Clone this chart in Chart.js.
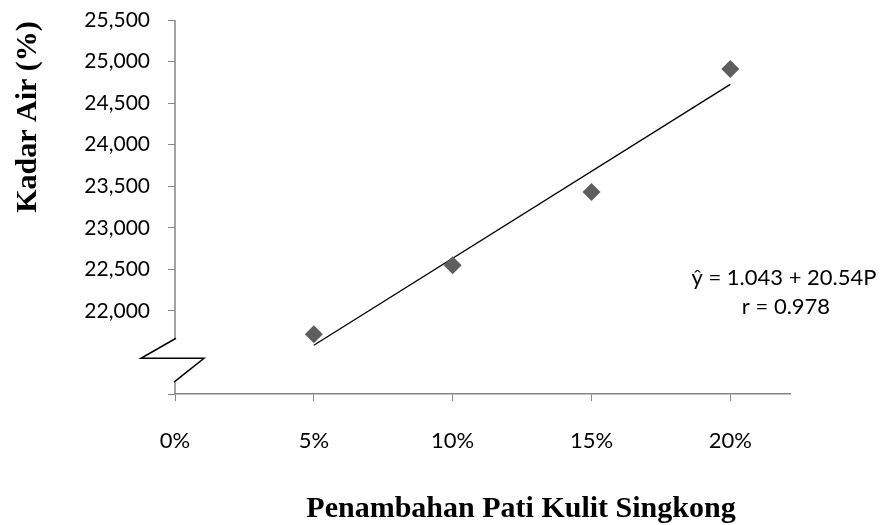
<!DOCTYPE html>
<html>
<head>
<meta charset="utf-8">
<title>Kadar Air</title>
<script src="https://cdn.jsdelivr.net/npm/chart.js@4/dist/chart.umd.min.js"></script>
<style>
  html, body { margin: 0; padding: 0; background: #ffffff; }
  canvas { display: block; }
</style>
</head>
<body>
<canvas id="chart" width="882" height="525"></canvas>
<script>
// Moisture content (Kadar Air) against cassava-peel starch addition
const patiLevels = [0.05, 0.10, 0.15, 0.20];
const kadarAir = [21720, 22550, 23430, 24910];

// Fitted linear trend, drawn between the first and last level
const trendLevels = [0.05, 0.20];
const trendValues = [21587, 24725];

// Axis ticks
const xTickValues = [0, 0.05, 0.10, 0.15, 0.20];
const yTickValues = [21000, 22000, 22500, 23000, 23500, 24000, 24500, 25000, 25500];
const yLabelFrom = 22000;

// Scale values where the vertical axis is interrupted
const axisBreak = { upper: 21671, mid: 21430, lower: 21142 };

const equationLines = ['\u0177 = 1.043 + 20.54P', 'r = 0.978'];
const xTitle = 'Penambahan Pati Kulit Singkong';
const yTitle = 'Kadar Air (%)';

const AXIS_GREY = '#868686';
const TICK_FONT = 'Lato';
const TITLE_FONT = '"Liberation Serif", "Times New Roman", serif';

const decorations = {
  id: 'decorations',
  beforeDraw(chart) {
    const ctx = chart.ctx;
    ctx.save();
    ctx.fillStyle = '#ffffff';
    ctx.fillRect(0, 0, chart.width, chart.height);
    ctx.restore();
  },
  afterDraw(chart) {
    const ctx = chart.ctx;
    const xs = chart.scales.x, ys = chart.scales.y;
    const ax = xs.getPixelForValue(0);
    const yTop = ys.getPixelForValue(ys.max);
    const yBottom = ys.getPixelForValue(ys.min);
    const bUp = ys.getPixelForValue(axisBreak.upper);
    const bMid = ys.getPixelForValue(axisBreak.mid);
    const bLow = ys.getPixelForValue(axisBreak.lower);

    ctx.save();
    // broken vertical axis
    ctx.strokeStyle = AXIS_GREY;
    ctx.lineWidth = 1.5;
    ctx.beginPath();
    ctx.moveTo(ax, yTop);
    ctx.lineTo(ax, bUp);
    ctx.moveTo(ax, bLow);
    ctx.lineTo(ax, yBottom);
    ctx.stroke();

    // break symbol
    ctx.strokeStyle = '#000000';
    ctx.lineWidth = 1.5;
    ctx.beginPath();
    ctx.moveTo(ax + 1, bUp);
    ctx.lineTo(ax - 34, bMid);
    ctx.lineTo(ax + 29, bMid);
    ctx.lineTo(ax - 1, bLow);
    ctx.stroke();

    // regression note
    ctx.fillStyle = '#000000';
    ctx.font = '22px ' + TICK_FONT;
    ctx.textAlign = 'center';
    ctx.textBaseline = 'middle';
    ctx.fillText(equationLines[0], 784, 278);
    ctx.fillText(equationLines[1], 786, 307);

    // axis titles
    ctx.font = 'bold 30px ' + TITLE_FONT;
    ctx.textBaseline = 'alphabetic';
    ctx.fillText(xTitle, 521, 517);
    ctx.translate(36, 117);
    ctx.rotate(-Math.PI / 2);
    ctx.fillText(yTitle, 0, 0);
    ctx.restore();
  }
};

new Chart(document.getElementById('chart'), {
  type: 'scatter',
  data: {
    datasets: [
      {
        label: 'Kadar Air',
        data: patiLevels.map((p, i) => ({ x: p, y: kadarAir[i] })),
        pointStyle: 'rectRot',
        pointRadius: 9,
        pointHoverRadius: 9,
        backgroundColor: '#5e5e5e',
        borderColor: '#5e5e5e',
        borderWidth: 0,
        showLine: false,
        order: 1
      },
      {
        label: 'Trend',
        data: trendLevels.map((p, i) => ({ x: p, y: trendValues[i] })),
        showLine: true,
        borderColor: '#000000',
        borderWidth: 1.3,
        pointRadius: 0,
        fill: false,
        order: 2
      }
    ]
  },
  options: {
    responsive: false,
    devicePixelRatio: 1,
    animation: false,
    events: [],
    layout: { padding: { top: 20, right: 92, left: 0, bottom: 0 } },
    plugins: {
      legend: { display: false },
      tooltip: { enabled: false },
      title: { display: false }
    },
    scales: {
      x: {
        type: 'linear',
        position: 'bottom',
        min: 0,
        max: 0.2215,
        afterBuildTicks(scale) {
          scale.ticks = xTickValues.map(v => ({ value: v }));
        },
        afterFit(scale) { scale.height = 131; },
        ticks: {
          autoSkip: false,
          maxRotation: 0,
          padding: 27,
          color: '#000000',
          font: { family: TICK_FONT, size: 22 },
          callback: v => Math.round(v * 100) + '%'
        },
        grid: {
          drawOnChartArea: false,
          drawTicks: true,
          tickLength: 7,
          tickColor: AXIS_GREY,
          lineWidth: 1
        },
        border: { display: true, color: AXIS_GREY, width: 1.5 }
      },
      y: {
        type: 'linear',
        position: 'left',
        min: yTickValues[0],
        max: yTickValues[yTickValues.length - 1],
        afterBuildTicks(scale) {
          scale.ticks = yTickValues.map(v => ({ value: v }));
        },
        afterFit(scale) {
          scale.width = 175;
          scale.paddingTop = 0;
          scale.paddingBottom = 0;
        },
        ticks: {
          autoSkip: false,
          padding: 18,
          color: '#000000',
          font: { family: TICK_FONT, size: 21 },
          callback: v => (v < yLabelFrom ? '' : v.toLocaleString('en-US'))
        },
        grid: {
          drawOnChartArea: false,
          drawTicks: true,
          tickLength: 7,
          tickColor: AXIS_GREY,
          lineWidth: 1
        },
        border: { display: false }
      }
    }
  },
  plugins: [decorations]
});
</script>
</body>
</html>
